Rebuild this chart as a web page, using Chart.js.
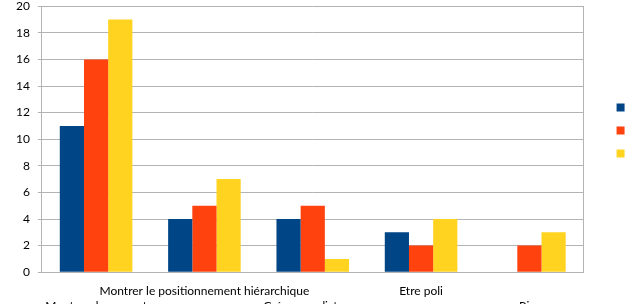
<!DOCTYPE html>
<html>
<head>
<meta charset="utf-8">
<script src="https://cdn.jsdelivr.net/npm/chart.js@4/dist/chart.umd.min.js"></script>
<style>
  html, body { margin: 0; padding: 0; overflow: hidden; background: #fff; }
  #wrap { width: 677px; height: 326px; position: relative; margin-top: -9px; }
</style>
</head>
<body>
<div id="wrap"><canvas id="myChart"></canvas></div>
<script>
// categories (staggered on two rows like the original)
var categories = [
  ['', 'Montrer du respect'],
  ['Montrer le positionnement hiérarchique', ''],
  ['', 'Créer une distance'],
  ['Etre poli', ''],
  ['', 'Rire']
];
var seriesNames = ['Série 1', 'Série 2', 'Série 3'];
var blueValues = [11, 4, 4, 3, 0];
var redValues = [16, 5, 5, 2, 2];
var yellowValues = [19, 7, 1, 4, 3];

var ctx = document.getElementById('myChart').getContext('2d');
var chart = new Chart(ctx, {
  type: 'bar',
  data: {
    labels: categories,
    datasets: [
      { label: seriesNames[0], data: blueValues, backgroundColor: '#004586' },
      { label: seriesNames[1], data: redValues, backgroundColor: '#ff420e' },
      { label: seriesNames[2], data: yellowValues, backgroundColor: '#ffd320' }
    ]
  },
  options: {
    responsive: true,
    maintainAspectRatio: false,
    animation: false,
    layout: { padding: { top: 0, left: 8, right: 0, bottom: 0 } },
    datasets: { bar: { barPercentage: 1, categoryPercentage: 0.67 } },
    plugins: {
      tooltip: { enabled: false },
      legend: {
        display: true,
        position: 'right',
        align: 'start',
        title: { display: true, text: ' ', padding: { top: 85, bottom: 0 }, font: { size: 12 } },
        labels: { boxWidth: 8, boxHeight: 8, padding: 11, color: '#000', font: { family: 'Lato', size: 12 } }
      }
    },
    scales: {
      x: {
        grid: { display: false },
        border: { color: '#b3b3b3' },
        ticks: { autoSkip: false, maxRotation: 0, minRotation: 0, color: '#000', padding: 4,
                 font: { family: 'Lato', size: 12 } }
      },
      y: {
        min: 0, max: 20,
        ticks: { stepSize: 2, color: '#000', font: { family: 'Lato', size: 12 }, padding: 8 },
        grid: { color: '#b3b3b3', tickLength: 4 },
        border: { color: '#b3b3b3' }
      },
      y2: {
        position: 'right',
        min: 0, max: 20,
        ticks: { display: false },
        grid: { drawOnChartArea: false, drawTicks: false },
        border: { color: '#b3b3b3' },
        afterFit: function (axis) { axis.width = 22; }
      }
    }
  }
});
</script>
</body>
</html>
